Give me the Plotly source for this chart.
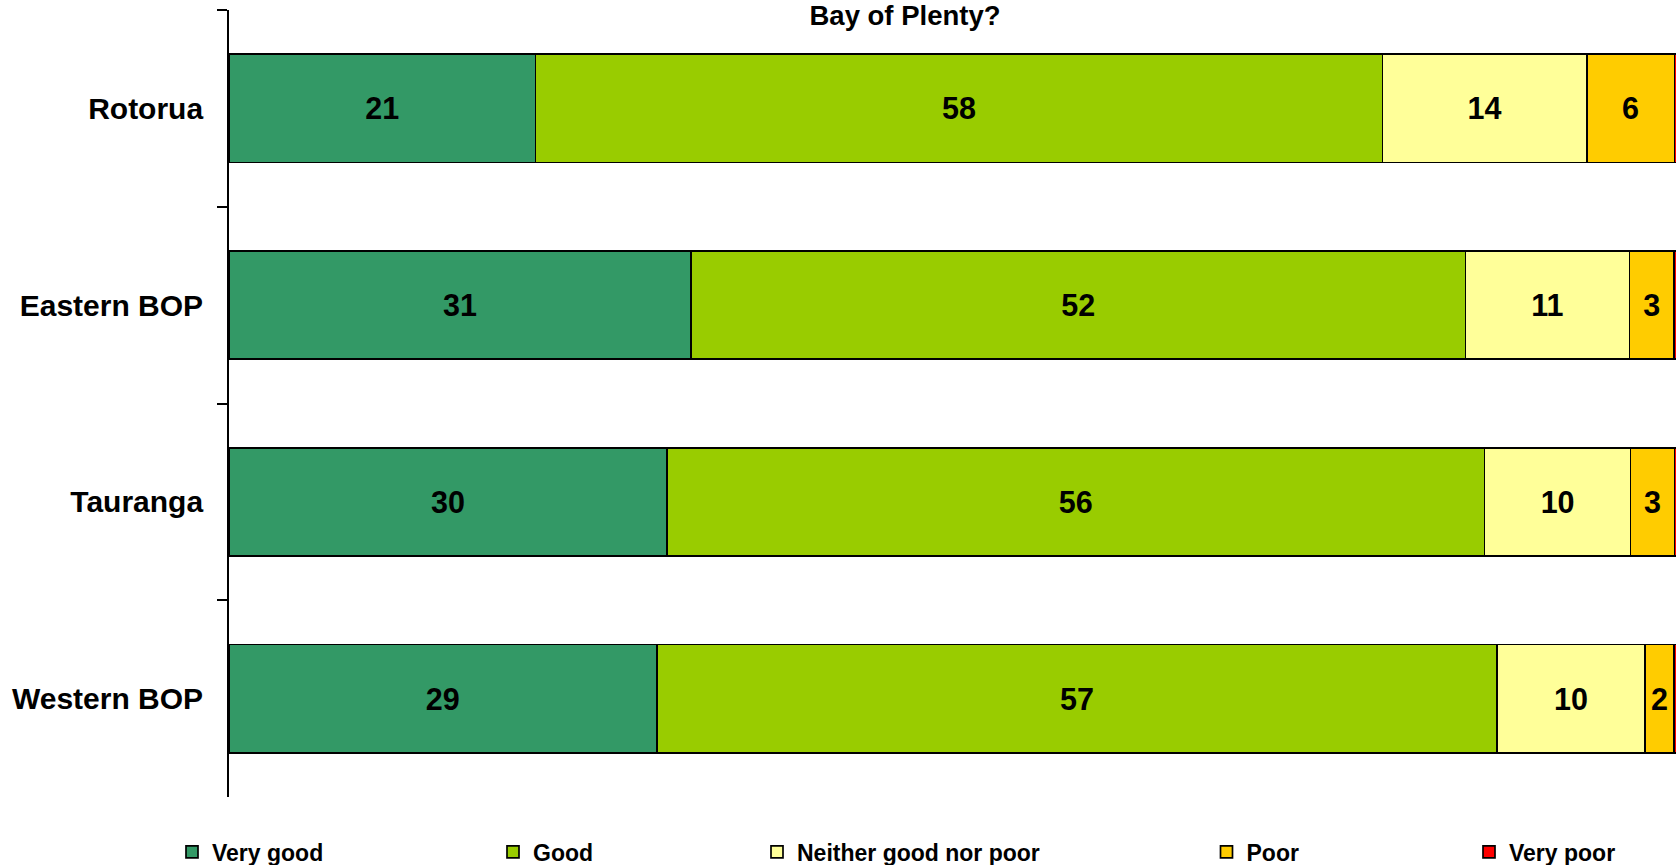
import plotly.graph_objects as go

categories = ["Rotorua", "Eastern BOP", "Tauranga", "Western BOP"]
series_names = ["Very good", "Good", "Neither good nor poor", "Poor", "Very poor"]
very_good = [21, 31, 30, 29]
good = [58, 52, 56, 57]
neither = [14, 11, 10, 10]
poor = [6, 3, 3, 2]
very_poor = [1, 1, 1, 1]
title_text = "Bay of Plenty?"

colors = ["#339966", "#99CC00", "#FFFF99", "#FFCC00", "#FF0000"]
series_values = [very_good, good, neither, poor, very_poor]

FONT = "Arial, 'Liberation Sans', sans-serif"
W, H = 1676, 865
ML, MR, MT, MB = 229, 0, 10, 68
plot_w = W - ML - MR
plot_h = H - MT - MB
px_per_pct = 14.6

# legend symbol centres (pixels) in the reference
legend_px = [194, 515, 779, 1228.5, 1491]

fig = go.Figure()
for i, (name, vals, col) in enumerate(zip(series_names, series_values, colors)):
    legend_id = "legend" if i == 0 else f"legend{i+1}"
    fig.add_trace(go.Bar(
        y=categories,
        x=vals,
        name=name,
        orientation="h",
        marker=dict(color=col, line=dict(color="black", width=1.7)),
        text=[str(v) for v in vals],
        texttemplate="%{text}",
        textposition="none" if name == "Very poor" else "inside",
        insidetextanchor="middle",
        textangle=0,
        textfont=dict(family=FONT, size=30.5, color="black", weight="bold"),
        legend=legend_id,
        showlegend=True,
        hoverinfo="name+x",
    ))

layout_legends = {}
for i, cx in enumerate(legend_px):
    legend_id = "legend" if i == 0 else f"legend{i+1}"
    layout_legends[legend_id] = dict(
        x=(cx - 22 - ML) / plot_w,
        xanchor="left",
        y=(MT + plot_h - 852) / plot_h,
        yanchor="middle",
        orientation="h",
        bgcolor="rgba(0,0,0,0)",
        font=dict(family=FONT, size=23, color="black", weight="bold"),
        itemclick=False,
        visible=True,
    )

fig.update_layout(
    width=W,
    height=H,
    showlegend=True,
    barmode="stack",
    barnorm="percent",
    bargap=0.45,
    plot_bgcolor="white",
    paper_bgcolor="white",
    margin=dict(l=ML, r=MR, t=MT, b=MB, pad=0, autoexpand=False),
    title=dict(
        text="<b>" + title_text + "</b>",
        x=905 / W,
        xref="container",
        xanchor="center",
        y=1 - 15.5 / H,
        yref="container",
        yanchor="middle",
        font=dict(family=FONT, size=27.5, color="black"),
    ),
    xaxis=dict(
        range=[0, plot_w / px_per_pct],
        visible=False,
        showgrid=False,
        zeroline=False,
    ),
    yaxis=dict(
        categoryorder="array",
        categoryarray=categories,
        autorange="reversed",
        showline=True,
        linecolor="black",
        linewidth=1.7,
        ticks="outside",
        tickson="boundaries",
        ticklen=10,
        tickwidth=1.7,
        tickcolor="black",
        ticklabelstandoff=18,
        showgrid=False,
        zeroline=False,
        tickfont=dict(family=FONT, size=30, color="black", weight="bold"),
    ),
    **layout_legends,
)

fig.write_html(
    "out.html",
    config={"displayModeBar": False},
    post_script="document.body.style.margin='0';document.body.style.overflow='hidden';",
)
